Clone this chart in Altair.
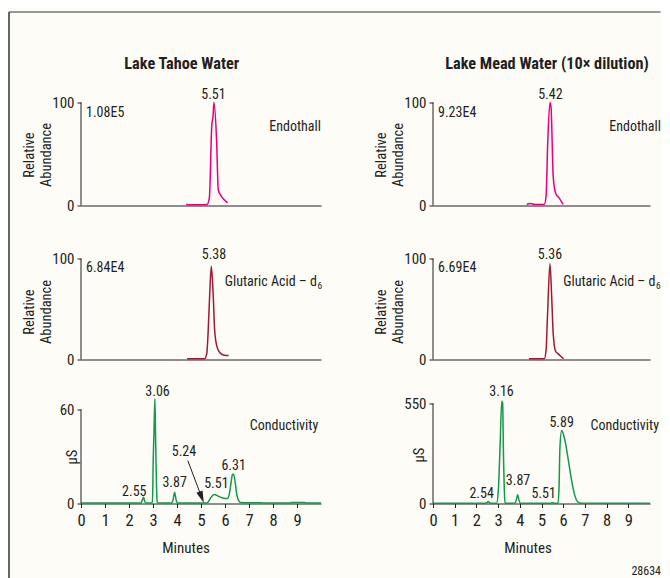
import altair as alt
import pandas as pd

FONT = "Roboto Condensed, Liberation Sans, sans-serif"
INK = "#231f20"
BG = "#fdfcf7"
MAGENTA = "#e6007e"
MAROON = "#9e1b32"
GREEN = "#12994a"

# ---------------- data ----------------
tahoe_endo_t = [4.38, 4.86, 5.25, 5.35, 5.45, 5.50, 5.54, 5.65, 5.72, 5.83, 5.97, 6.11]
tahoe_endo_v = [1.0, 0.7, 1.0, 8.0, 78.0, 86.0, 100.0, 63.0, 15.0, 9.7, 5.5, 2.6]
mead_endo_t = [4.32, 4.47, 4.70, 5.13, 5.21, 5.29, 5.39, 5.44, 5.54, 5.65, 5.81, 6.00]
mead_endo_v = [1.0, 2.0, 1.0, 1.0, 9.0, 63.0, 100.0, 95.0, 28.0, 12.0, 7.4, 1.0]
tahoe_glu_t = [4.42, 5.14, 5.24, 5.30, 5.375, 5.43, 5.50, 5.57, 5.67, 5.80, 5.97, 6.15]
tahoe_glu_v = [0.7, 0.7, 5.6, 28.7, 71.6, 92.4, 68.0, 28.7, 12.2, 6.3, 4.3, 4.0]
mead_glu_t = [4.42, 5.13, 5.21, 5.28, 5.39, 5.47, 5.54, 5.65, 5.77, 5.90, 6.02]
mead_glu_v = [0.7, 0.7, 9.0, 45.0, 94.8, 61.7, 25.4, 8.2, 5.6, 3.0, 0.7]
tahoe_cond_t = [0.0, 2.0, 2.50, 2.56, 2.61, 2.66, 2.72, 2.97, 2.99, 3.00, 3.04, 3.08,
                3.11, 3.14, 3.17, 3.22, 3.78, 3.84, 3.90, 3.96, 4.02, 5.20, 5.30,
                5.40, 5.50, 5.56, 5.70, 5.85, 6.00, 6.10, 6.18, 6.25, 6.31, 6.36,
                6.42, 6.50, 6.58, 6.65, 7.00, 7.50, 7.60, 8.70, 8.80, 9.30, 9.40, 10.0]
tahoe_cond_v = [0.3, 0.3, 0.3, 2.5, 4.0, 1.0, 0.3, 0.3, 8.0, 19.6, 45.0, 66.8,
                40.0, 15.7, 1.3, 0.3, 0.3, 2.5, 7.2, 2.5, 0.3, 0.3, 1.0,
                3.5, 5.4, 5.7, 4.8, 3.8, 3.2, 3.2, 6.0, 13.0, 18.5, 18.7,
                14.0, 5.0, 1.5, 0.6, 0.4, 0.5, 0.3, 0.3, 0.6, 0.6, 0.3, 0.3]
mead_cond_t = [0.0, 2.40, 2.50, 2.55, 2.62, 2.70, 2.93, 3.01, 3.09, 3.17, 3.21, 3.25,
               3.28, 3.32, 3.40, 3.78, 3.84, 3.90, 3.96, 4.02, 5.40, 5.51, 5.60,
               5.77, 5.81, 5.85, 5.93, 6.00, 6.08, 6.24, 6.39, 6.54, 6.70, 6.85, 10.0]
mead_cond_v = [1, 1, 6, 11, 4, 1, 1, 70, 310, 564, 550, 250,
               100, 6, 1, 1, 20, 48, 20, 1, 1, 4, 1,
               2, 100, 310, 402, 385, 347, 236, 125, 42, 6, 1, 1]

tl_lab = (["5.51"], [5.52], [103.6])
tr_lab = (["5.42"], [5.41], [103.6])
ml_lab = (["5.38"], [5.54], [99.7])
mr_lab = (["5.36"], [5.39], [99.7])
bl_lab = (["2.55", "3.06", "3.87", "5.24", "5.51", "6.31"],
          [2.22, 3.19, 3.90, 4.29, 5.64, 6.36],
          [5.1, 68.9, 10.4, 30.6, 10.0, 21.5])
br_lab = (["2.54", "3.16", "3.87", "5.51", "5.89"],
          [2.24, 3.16, 3.92, 5.10, 5.93],
          [30, 590, 103, 30, 420])

X_TICKS = [0, 1, 2, 3, 4, 5, 6, 7, 8, 9]
FS = 14  # general annotation font size


def panel(t, v, color, width, height, ymax, ytop, ytitle, ttx, tty, labels,
          corner=None, name=None, name_y=None, name_dx=0, sub=False,
          bottom=False, min_x=0, title=None, title_x=0, extra=None):
    df = pd.DataFrame({"t": t, "v": v})
    xs = alt.Scale(domain=[0, 10], nice=False, zero=False)
    ys = alt.Scale(domain=[0, ymax], nice=False, zero=True)
    if bottom:
        xaxis = alt.Axis(values=X_TICKS, tickSize=4, tickColor=INK, domainColor=INK,
                         labelFontSize=16.5, labelPadding=5, labelColor=INK,
                         labelFlush=False, labelOverlap=False, format="d",
                         title="Minutes", titleFontSize=15, titleFontWeight="normal",
                         titleColor=INK, titleX=min_x, titleY=49,
                         titleBaseline="alphabetic", titleAnchor="middle", grid=False)
    else:
        xaxis = alt.Axis(labels=False, ticks=False, title=None, domainColor=INK, grid=False)
    yaxis = alt.Axis(values=[0, ytop], domain=False, tickSize=4, tickColor=INK,
                     labelFontSize=15, labelPadding=3, labelColor=INK, grid=False,
                     labelOverlap=False, title=ytitle, titleAngle=270, titleX=ttx,
                     titleY=tty, titleBaseline="middle", titleAlign="center",
                     titleFontWeight="normal", titleFontSize=14.5, titleLineHeight=17,
                     titleColor=INK)

    def X(f="t:Q"):
        return alt.X(f, scale=xs, axis=xaxis)

    def Y(f="v:Q"):
        return alt.Y(f, scale=ys, axis=yaxis)

    layers = [
        alt.Chart(df).mark_line(color=color, strokeWidth=1.5, clip=False,
                                interpolate="monotone").encode(x=X(), y=Y())
    ]
    ax = pd.DataFrame({"t": [0], "v": [0], "v2": [ytop]})
    layers.append(alt.Chart(ax).mark_rule(color=INK, strokeWidth=1)
                  .encode(x=X(), y=Y(), y2="v2:Q"))
    ldf = pd.DataFrame({"label": labels[0], "t": labels[1], "v": labels[2]})
    layers.append(alt.Chart(ldf).mark_text(fontSize=FS, color=INK, align="center",
                                           baseline="alphabetic")
                  .encode(x=X(), y=Y(), text="label:N"))
    if corner:
        cdf = pd.DataFrame({"label": [corner], "t": [0], "v": [ytop]})
        layers.append(alt.Chart(cdf).mark_text(fontSize=FS, color=INK, align="left",
                                               baseline="alphabetic", dx=5, dy=14)
                      .encode(x=X(), y=Y(), text="label:N"))
    if name:
        ndf = pd.DataFrame({"label": [name], "t": [10], "v": [name_y]})
        layers.append(alt.Chart(ndf).mark_text(fontSize=FS, color=INK, align="right",
                                               baseline="alphabetic", dx=name_dx)
                      .encode(x=X(), y=Y(), text="label:N"))
        if sub:
            sdf = pd.DataFrame({"label": ["6"], "t": [10], "v": [name_y]})
            layers.append(alt.Chart(sdf).mark_text(fontSize=9.5, color=INK, align="left",
                                                   baseline="alphabetic",
                                                   dx=name_dx + 0.5, dy=3)
                          .encode(x=X(), y=Y(), text="label:N"))
    if title:
        layers.append(alt.Chart(pd.DataFrame({"label": [title]})).mark_text(
            fontSize=16.3, fontWeight="bold", color=INK, align="center",
            baseline="alphabetic").encode(
            x=alt.value(title_x), y=alt.value(-34), text="label:N"))
    if extra:
        layers.extend(extra(X, Y))
    return alt.layer(*layers).properties(width=width, height=height)


def frame_layers(X, Y):
    left = alt.Chart(pd.DataFrame({"d": [0]})).mark_rule(
        color="#666666", strokeWidth=2).encode(
        x=alt.value(-72), y=alt.value(-90.5), y2=alt.value(476))
    top = alt.Chart(pd.DataFrame({"d": [0]})).mark_rule(
        color="#333333", strokeWidth=1).encode(
        x=alt.value(-72), x2=alt.value(579.5), y=alt.value(-90.5))
    return [left, top]


def arrow_layers(X, Y):
    seg = pd.DataFrame({"t": [4.45], "v": [27.4], "t2": [5.025], "v2": [4.0]})
    head = pd.DataFrame({"t": [5.025], "v": [4.0]})
    line = alt.Chart(seg).mark_rule(color=INK, strokeWidth=1).encode(
        x=X(), y=Y(), x2="t2:Q", y2="v2:Q")
    tip = alt.Chart(head).mark_point(shape="M -0.55 -1 L 0.55 -1 L 0 1 Z", filled=True,
                                     size=144, angle=339, color=INK, opacity=1).encode(
        x=X(), y=Y())
    return [line, tip]


def code_layers(X, Y):
    d = pd.DataFrame({"label": ["28634"], "t": [10], "v": [0]})
    return [alt.Chart(d).mark_text(fontSize=12, color=INK, align="right",
                                   baseline="alphabetic", dx=11, dy=71).encode(
        x=X(), y=Y(), text="label:N")]


RA = ["Relative", "Abundance"]
TTX = -51.3

tl = panel(tahoe_endo_t, tahoe_endo_v, MAGENTA, 240, 103, 100, 100, RA, TTX, 52,
           tl_lab, corner="1.08E5", name="Endothall", name_y=72.1, name_dx=0,
           title="Lake Tahoe Water", title_x=100.7, extra=frame_layers)
tr = panel(mead_endo_t, mead_endo_v, MAGENTA, 217, 103, 100, 100, RA, TTX, 52,
           tr_lab, corner="9.23E4", name="Endothall", name_y=72.1, name_dx=11,
           title="Lake Mead Water (10\u00d7 dilution)", title_x=114)
ml = panel(tahoe_glu_t, tahoe_glu_v, MAROON, 240, 134, 132.67, 100, RA, TTX, 86,
           ml_lab, corner="6.84E4", name="Glutaric Acid \u2013 d", name_y=72.3,
           name_dx=-4, sub=True)
mr = panel(mead_glu_t, mead_glu_v, MAROON, 217, 134, 132.67, 100, RA, TTX, 86,
           mr_lab, corner="6.69E4", name="Glutaric Acid \u2013 d", name_y=72.3,
           name_dx=5.5, sub=True)
bl = panel(tahoe_cond_t, tahoe_cond_v, GREEN, 240, 124, 79.15, 60, "\u00b5S", -9, 77,
           bl_lab, name="Conductivity", name_y=47.2, name_dx=-2.7, bottom=True,
           min_x=104.5, extra=arrow_layers)
br = panel(mead_cond_t, mead_cond_v, GREEN, 217, 124, 682, 550, "\u00b5S", -14, 75,
           br_lab, name="Conductivity", name_y=406, name_dx=9, bottom=True,
           min_x=94.5, extra=code_layers)

chart = alt.concat(tl, tr, ml, mr, bl, br, columns=2,
                   spacing={"row": 20, "column": 112},
                   bounds="flush", align="each").properties(
    background=BG,
    padding={"left": 0, "top": 2.5, "right": 0, "bottom": 0},
).configure(font=FONT).configure_view(stroke=None)

chart.save("out.html", embed_options={"renderer": "svg", "actions": False})
